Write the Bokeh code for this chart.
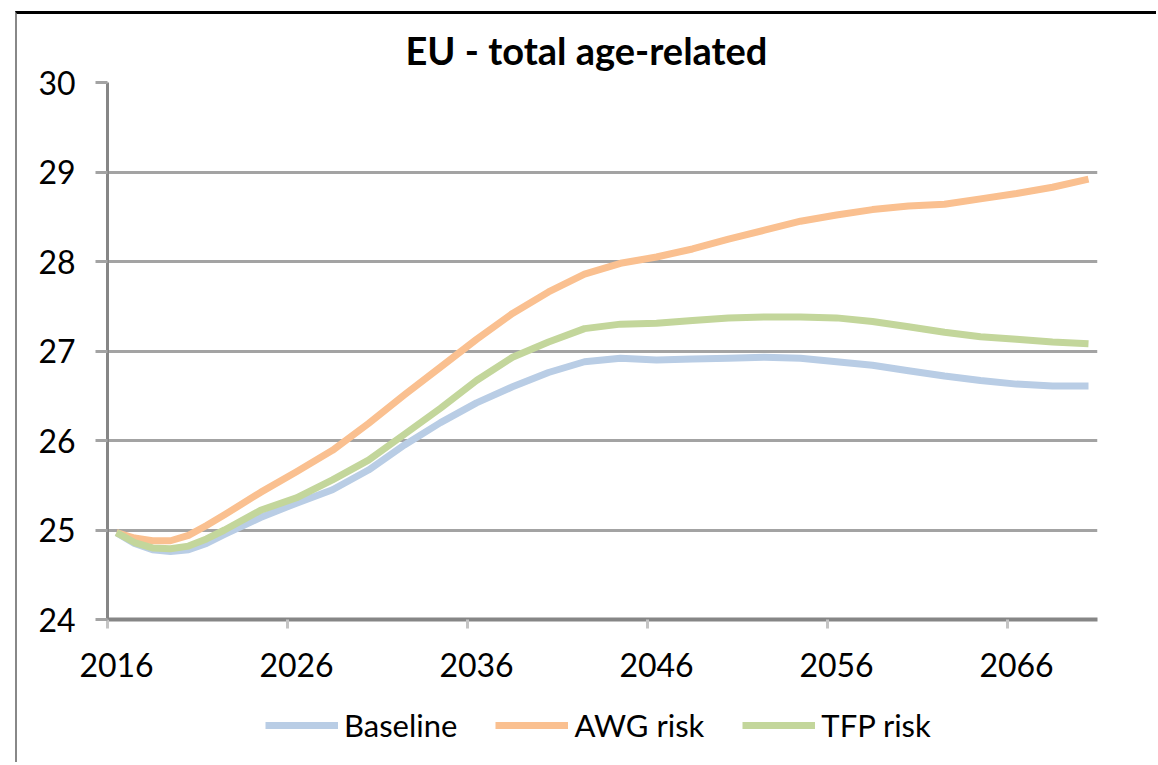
from bokeh.plotting import figure
from bokeh.layouts import column
from bokeh.models import Range1d, FixedTicker, Legend, LegendItem
from bokeh.embed import file_html
from bokeh.resources import INLINE

years = [2016, 2017, 2018, 2019, 2020, 2021, 2022, 2024, 2026, 2028, 2030, 2032,
         2034, 2036, 2038, 2040, 2042, 2044, 2046, 2048, 2050, 2052, 2054, 2056,
         2058, 2060, 2062, 2064, 2066, 2068, 2070]
baseline = [24.97, 24.85, 24.78, 24.76, 24.78, 24.85, 24.95, 25.14, 25.30, 25.45,
            25.67, 25.95, 26.20, 26.42, 26.60, 26.76, 26.88, 26.92, 26.90, 26.91,
            26.92, 26.93, 26.92, 26.88, 26.84, 26.78, 26.72, 26.67, 26.63, 26.61,
            26.61]
awg_risk = [24.97, 24.91, 24.88, 24.88, 24.94, 25.05, 25.17, 25.42, 25.65, 25.89,
            26.19, 26.51, 26.82, 27.13, 27.42, 27.66, 27.86, 27.98, 28.05, 28.14,
            28.25, 28.35, 28.45, 28.52, 28.58, 28.62, 28.64, 28.70, 28.76, 28.83,
            28.92]
tfp_risk = [24.97, 24.86, 24.80, 24.79, 24.82, 24.90, 25.00, 25.22, 25.36, 25.56,
            25.78, 26.07, 26.36, 26.67, 26.93, 27.10, 27.25, 27.30, 27.31, 27.34,
            27.37, 27.38, 27.38, 27.37, 27.33, 27.27, 27.21, 27.16, 27.13, 27.10,
            27.08]
series_names = ["Baseline", "AWG risk", "TFP risk"]
x_label_years = [2016, 2026, 2036, 2046, 2056, 2066]
y_ticks = [24, 25, 26, 27, 28, 29, 30]
title_text = "EU - total age-related"

FONT = "Lato"
GRID = "#a3a3a3"
AXIS = "#868686"
colors = ["#b9cde5", "#fac090", "#c3d69b"]
series = [baseline, awg_risk, tfp_risk]

# ---------------- main chart ----------------
p = figure(width=1141, height=676, output_backend="svg", toolbar_location=None,
           x_range=Range1d(years[0] - 0.5, years[-1] + 0.5),
           y_range=Range1d(y_ticks[0], y_ticks[-1]),
           min_border_left=90, min_border_right=61, min_border_top=67,
           min_border_bottom=71, title=title_text)
p.margin = (11, 0, 0, 15)
p.styles = {"border-top": "3px solid #000000", "border-left": "2px solid #888888"}
p.background_fill_color = "white"
p.border_fill_color = "white"
p.outline_line_color = None

p.title.text_font = FONT
p.title.text_font_style = "bold"
p.title.text_font_size = "38px"
p.title.align = "left"
p.title.offset = 298
p.title.text_color = "#000000"
p.title.standoff = 20

ya = p.yaxis[0]
ya.ticker = FixedTicker(ticks=y_ticks)
ya.axis_line_color = AXIS
ya.axis_line_width = 3
ya.major_tick_out = 12
ya.major_tick_in = 0
ya.major_tick_line_color = GRID
ya.major_tick_line_width = 3
ya.minor_tick_line_color = None
ya.major_label_standoff = 20
ya.major_label_text_font = FONT
ya.major_label_text_font_size = "32px"
ya.major_label_text_color = "#000000"

p.ygrid.ticker = FixedTicker(ticks=y_ticks[1:])
p.ygrid.grid_line_color = GRID
p.ygrid.grid_line_width = 3
p.xgrid.grid_line_color = None

xa = p.xaxis[0]
xa.ticker = FixedTicker(ticks=x_label_years, minor_ticks=[y - 0.5 for y in x_label_years])
xa.axis_line_color = AXIS
xa.axis_line_width = 4
xa.major_tick_out = 0
xa.major_tick_in = 0
xa.major_tick_line_color = None
xa.minor_tick_out = 9
xa.minor_tick_in = 0
xa.minor_tick_line_color = "#c4c4c4"
xa.minor_tick_line_width = 3
xa.major_label_standoff = 24
xa.major_label_text_font = FONT
xa.major_label_text_font_size = "32px"
xa.major_label_text_color = "#000000"

for vals, c in zip(series, colors):
    p.line(years, vals, line_color=c, line_width=7, line_join="round")

# ---------------- legend strip ----------------
# same series drawn again in a strip whose view excludes the data; only its legend shows
q = figure(width=1141, height=75, output_backend="svg", toolbar_location=None,
           x_range=Range1d(0, 1), y_range=Range1d(0, 1),
           x_axis_location=None, y_axis_location=None,
           min_border_left=0, min_border_right=0, min_border_top=0, min_border_bottom=0)
q.margin = (0, 0, 0, 15)
q.styles = {"border-left": "2px solid #888888"}
q.grid.visible = False
q.outline_line_color = None
q.background_fill_color = "white"
q.border_fill_color = "white"

rs = []
for vals, c in zip(series, colors):
    rs.append(q.line(years, vals, line_color=c, line_width=7))

legend = Legend(items=[LegendItem(label=n, renderers=[r]) for n, r in zip(series_names, rs)],
                orientation="horizontal", location=(158, 18),
                glyph_width=73, glyph_height=20, label_standoff=6, spacing=38,
                padding=0, margin=0, border_line_color=None,
                background_fill_alpha=0,
                label_text_font=FONT, label_text_font_size="31px",
                label_text_color="#000000")
q.add_layout(legend, "center")

layout = column(p, q, spacing=0)
open("out.html", "w").write(file_html(layout, INLINE))
